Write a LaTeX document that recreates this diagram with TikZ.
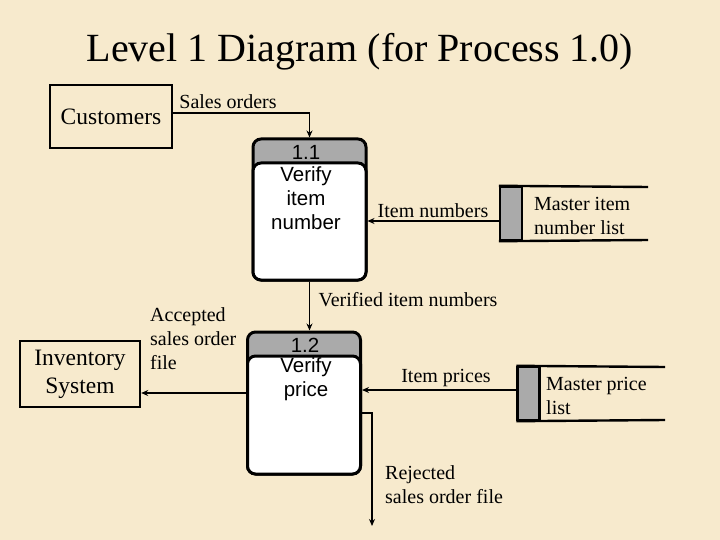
\documentclass[tikz,border=0pt]{standalone}
\usepackage{fontspec}
\setmainfont{Liberation Serif}
\newfontfamily\procfont{Liberation Sans}
\usetikzlibrary{positioning,arrows.meta}
\definecolor{parch}{RGB}{247,234,205}
\definecolor{hdgray}{RGB}{170,170,170}
\begin{document}
\begin{tikzpicture}[x=1pt,y=-1pt,
    ext/.style={draw, line width=2.4pt, minimum width=#1, inner sep=0pt, font=\fontsize{23.5}{28}\selectfont, align=center},
    proc/.style={draw, line width=3pt, rounded corners=8pt, fill=hdgray, minimum width=113, minimum height=141, inner sep=0pt},
    body/.style={draw, line width=3pt, rounded corners=8pt, fill=white, minimum width=113, inner sep=0pt},
    ptext/.style={font=\procfont\fontsize{20.5}{24}\selectfont, align=center, inner sep=0pt},
    store/.style={draw, line width=2.4pt, fill=hdgray, minimum width=22, minimum height=53, inner sep=0pt},
    flow/.style={line width=1.3pt, -{Stealth[length=7pt,width=6pt]}},
    lbl/.style={font=\fontsize{20}{24}\selectfont, inner sep=0pt, align=left},
    ]
  \fill[parch] (0,0) rectangle (720,540);
  \useasboundingbox (0,0) rectangle (720,540);
  \node[font=\fontsize{40}{44}\selectfont] (title) at (360,52) {Level 1 Diagram (for Process 1.0)};
  % external entities
  \node[ext=122, minimum height=63] (cust) at (111,116.5) {Customers};
  \node[ext=120, minimum height=66] (inv) at (80,374) {Inventory\\System};
  % processes
  \node[proc] (p1) at (309.5,209.5) {};
  \node[body, minimum height=117, anchor=south] (p1b) at (p1.south) {};
  \node[ptext] (p1n) at (306,152) {1.1};
  \node[ptext, anchor=north] (p1t) at (306,166) {Verify\\item\\number};
  \node[proc, minimum height=142] (p2) at (304,403) {};
  \node[body, minimum height=118, anchor=south] (p2b) at (p2.south) {};
  \node[ptext] (p2n) at (305,345) {1.2};
  \node[ptext, anchor=north] (p2t) at (306,357) {Verify\\price};
  % data stores
  \node[store] (ds1) at (511,213.5) {};
  \draw[line width=2.4pt] (ds1.north west) -- (648,187) (ds1.south west) -- (648,240);
  \node[lbl, anchor=west] (ds1t) at (534,216) {Master item\\number list};
  \node[store] (ds2) at (528.5,393.5) {};
  \draw[line width=2.4pt] (ds2.north west) -- (665,367) (ds2.south west) -- (665,420);
  \node[lbl, anchor=west] (ds2t) at (546,396) {Master price\\list};
  % flows
  \draw[flow] (cust.east |- 0,113) -| (p1.north);
  \node[lbl] (f1) at (228,102) {Sales orders};
  \draw[flow] (ds1.west |- 0,221) -- (p1.east |- 0,221);
  \node[lbl] (f2) at (433,211) {Item numbers};
  \draw[flow] (p1.south) -- (p1.south |- p2.north);
  \node[lbl] (f3) at (408,300) {Verified item numbers};
  \draw[flow] (ds2.west |- 0,390) -- (p2.east |- 0,390);
  \node[lbl] (f4) at (446,378) {Item prices};
  \draw[flow] (p2.west |- 0,393) -- (inv.east |- 0,393);
  \node[lbl, anchor=north west] (f5) at (150,307) {Accepted\\sales order\\file};
  \coordinate (rej) at (372,526);
  \draw[flow] (p2.east |- 0,413) -| (rej);
  \node[lbl, anchor=north west] (f6) at (385,465) {Rejected\\sales order file};
\end{tikzpicture}
\end{document}
